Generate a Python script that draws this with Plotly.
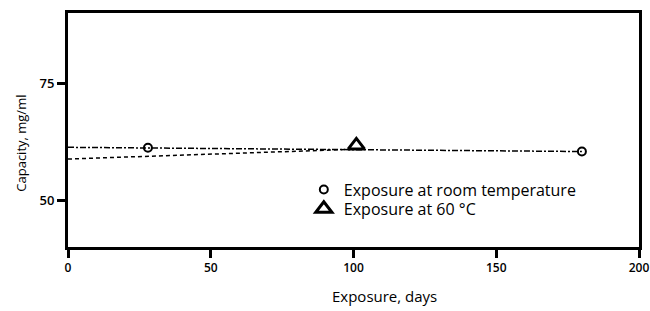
import plotly.graph_objects as go

# Data
room_x = [28, 180]
room_y = [61.2, 60.4]
hot_x = [101]
hot_y = [61.7]
room_fit_x = [0, 180]
room_fit_y = [61.3, 60.4]
hot_fit_x = [0, 101]
hot_fit_y = [58.8, 60.9]

x_ticks = [0, 50, 100, 150, 200]
y_ticks = [50, 75]

FONT = "Open Sans"

fig = go.Figure()
fig.add_trace(go.Scatter(x=room_fit_x, y=room_fit_y, mode="lines",
                         line=dict(color="black", width=1.5, dash="6px,2px,2px,2px"),
                         showlegend=False, hoverinfo="skip"))
fig.add_trace(go.Scatter(x=hot_fit_x, y=hot_fit_y, mode="lines",
                         line=dict(color="black", width=1.5, dash="4px,3px"),
                         showlegend=False, hoverinfo="skip"))
fig.add_trace(go.Scatter(x=room_x, y=room_y, mode="markers",
                         name="Exposure at room temperature", legend="legend",
                         marker=dict(symbol="circle-open", size=8, color="black",
                                     line=dict(width=2, color="black"))))
fig.add_trace(go.Scatter(x=hot_x, y=hot_y, mode="markers",
                         name="Exposure at 60 °C", legend="legend2",
                         marker=dict(symbol="triangle-up-open", size=14, color="black",
                                     line=dict(width=3, color="black"))))

axis_common = dict(showline=True, linecolor="black", linewidth=3, mirror=True,
                   ticks="outside", ticklen=8, tickwidth=2.5, tickcolor="black",
                   showgrid=False, zeroline=False, automargin=False,
                   ticklabeloverflow="allow")

fig.update_xaxes(range=[0, 200], tickvals=x_ticks, ticktext=[str(v) for v in x_ticks],
                 tickfont=dict(family=FONT, size=12, color="black", weight=600),
                 **axis_common)
fig.update_yaxes(range=[40, 90], tickvals=y_ticks, ticktext=[str(v) for v in y_ticks],
                 tickfont=dict(family=FONT, size=13, color="black", weight=600),
                 **axis_common)

legend_common = dict(xanchor="left", yanchor="middle", bgcolor="rgba(0,0,0,0)",
                     itemwidth=30, font=dict(family=FONT, size=16, color="black"))

fig.update_layout(
    width=650, height=311,
    margin=dict(l=68, r=11, t=13, b=64),
    plot_bgcolor="white", paper_bgcolor="white",
    font=dict(family=FONT, color="black"),
    legend=dict(x=0.413, y=0.245, **legend_common),
    legend2=dict(x=0.413, y=0.163, **legend_common),
    annotations=[
        dict(text="Exposure, days", xref="paper", yref="paper", x=0.555, y=-0.21,
             xanchor="center", yanchor="middle", showarrow=False,
             font=dict(family=FONT, size=15, color="black")),
        dict(text="Capacity, mg/ml", xref="paper", yref="paper", x=-0.083, y=0.444,
             xanchor="center", yanchor="middle", showarrow=False, textangle=-90,
             font=dict(family=FONT, size=13, color="black")),
    ],
)

fig.write_html("out.html", config={"displayModeBar": False},
               post_script="document.body.style.margin='0';")
